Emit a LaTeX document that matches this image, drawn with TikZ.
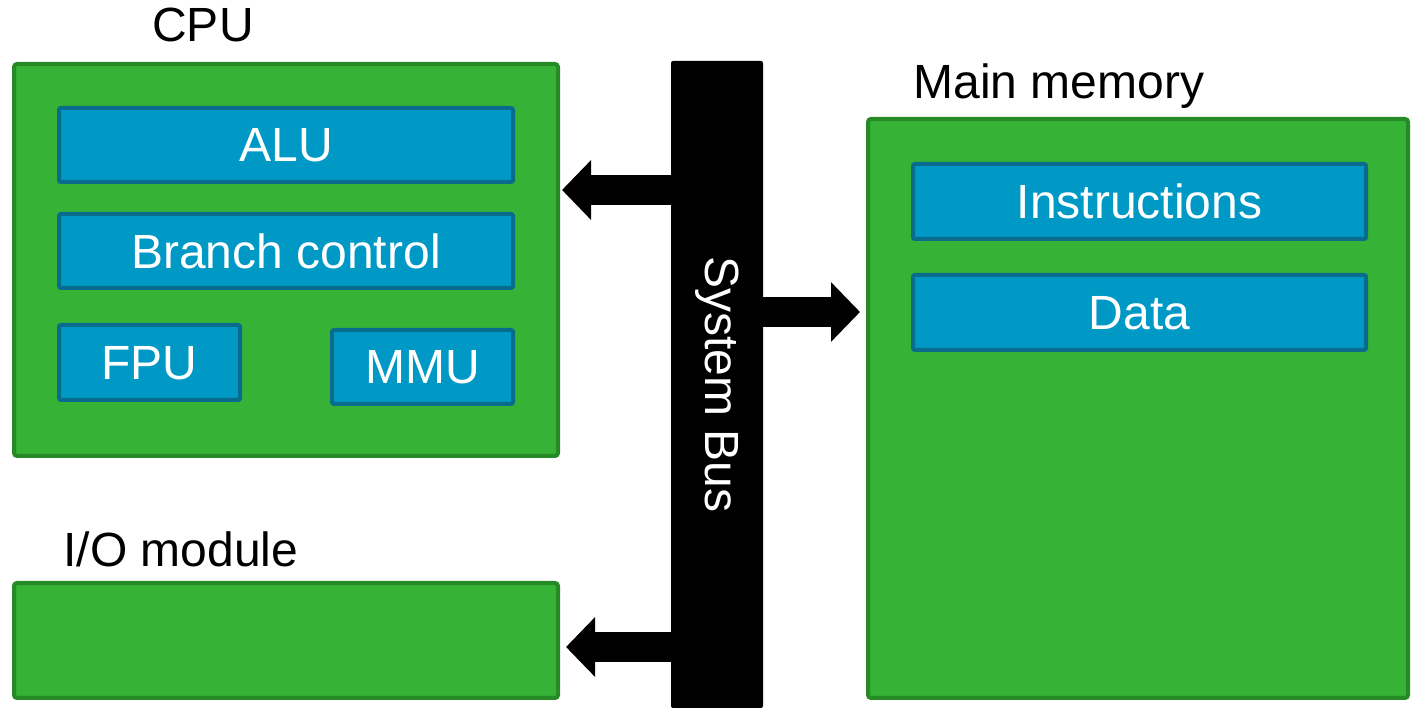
\documentclass[tikz,border=0pt]{standalone}
\usepackage{fontspec}
\setmainfont{Liberation Sans}
\usepackage{xcolor}
\usepackage{tikz}
\usetikzlibrary{positioning}
\usetikzlibrary{arrows.meta}
\usetikzlibrary{calc}

\definecolor{blockgreen}{RGB}{54,178,54}
\definecolor{blockgreenline}{RGB}{38,138,38}
\definecolor{unitblue}{RGB}{0,153,198}
\definecolor{unitblueline}{RGB}{10,108,140}

\begin{document}
\begin{tikzpicture}[x=1pt, y=1pt,
  block/.style={draw=blockgreenline, fill=blockgreen, line width=2pt, rounded corners=1.5pt, inner sep=0pt},
  unit/.style={draw=unitblueline, fill=unitblue, line width=2pt, rounded corners=1pt, inner sep=0pt, text=white,
               font=\fontsize{24}{28}\selectfont},
  heading/.style={font=\fontsize{24}{28}\selectfont, inner sep=0pt},
  busarrow/.style={line width=15pt, -{Triangle[length=14.5pt,width=29pt]}}]

 \useasboundingbox (0,0) rectangle (707,-355);

 % outer blocks
 \foreach \n/\x/\y/\w/\h in {cpu/143/-130/272/196, io/143/-320.25/272/57.5, mem/569/-204.25/270/289.5}
   \node[block, minimum width=\w pt, minimum height=\h pt] (\n) at (\x,\y) {};

 % units
 \foreach \n/\x/\y/\w/\h/\name in {alu/143/-72.5/227/37/ALU, branch/143/-125.5/227/37/Branch control,
      fpu/74.75/-181.25/90.5/37.5/FPU, mmu/211.25/-183.5/90.5/37/MMU,
      instr/569.75/-100.75/226.5/37.5/Instructions, data/569.75/-156.25/226.5/37.5/Data}
   \node[unit, minimum width=\w pt, minimum height=\h pt, text depth=0pt] (\n) at (\x,\y) {\name};

 % headings
 \node[heading] (cpulabel) at (101.5,-12.5) {CPU};
 \node[heading, anchor=west] (memlabel) at (456.5,-43) {Main memory};
 \node[heading, anchor=west] (iolabel) at (31.5,-274.5) {I/O module};

 % bus
 \node[fill=black, rounded corners=1pt, inner sep=0pt, rotate=-90, text=white,
       minimum width=323.5pt, minimum height=46pt, font=\fontsize{24}{28}\selectfont] (bus) at (358.5,-192.25) {System Bus};

 % arrows
 \coordinate (tocpu) at (281,-95);
 \coordinate (tomem) at (430,-156);
 \coordinate (toio) at (283,-323.5);
 \draw[busarrow] (bus.south |- tocpu) -- (tocpu);
 \draw[busarrow] (bus.north |- tomem) -- (tomem);
 \draw[busarrow] (bus.south |- toio) -- (toio);

\end{tikzpicture}
\end{document}
